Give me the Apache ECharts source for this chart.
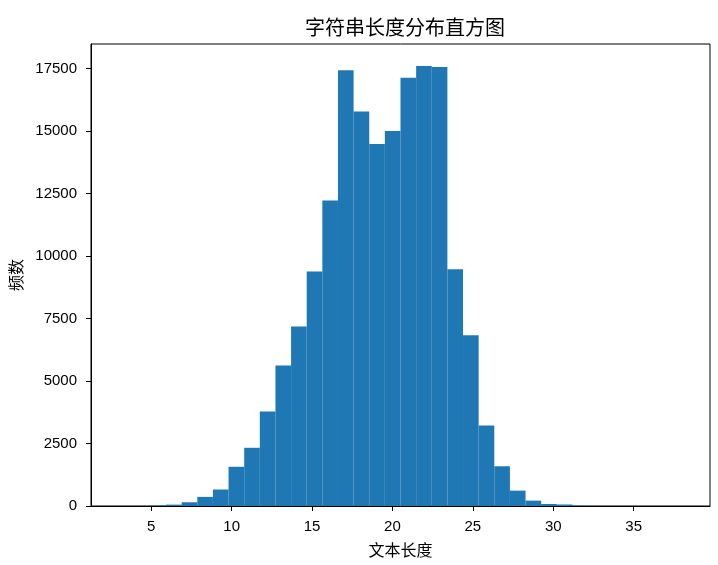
<!DOCTYPE html>
<html>
<head>
<meta charset="utf-8">
<script src="https://cdn.jsdelivr.net/npm/echarts@6/dist/echarts.min.js"></script>
<style>
html,body{margin:0;padding:0;background:#fff;}
#chart{width:718px;height:565px;}
</style>
</head>
<body>
<div id="chart"></div>
<script>
// Histogram: string lengths 3..38, 36 bins
const binStart = 3;
const binEnd = 38;
const binCount = 36;
const counts = [
  2, 5, 20, 55, 150, 365, 660, 1570, 2330, 3780,
  5620, 7185, 9385, 12230, 17440, 15790, 14485, 15005, 17140, 17610,
  17570, 9480, 6835, 3220, 1590, 615, 215, 80, 60, 12,
  5, 2, 1, 1, 0, 1
];
const xTicks = [5, 10, 15, 20, 25, 30, 35];
const yTicks = [0, 2500, 5000, 7500, 10000, 12500, 15000, 17500];
const titleText = '字符串长度分布直方图';
const xName = '文本长度';
const yName = '频数';

const binW = (binEnd - binStart) / binCount;
const rows = counts.map((c, i) => [binStart + i * binW, binStart + (i + 1) * binW, c]);
const span = binEnd - binStart;
const xMin = binStart - span * 0.05;
const xMax = binEnd + span * 0.05;
const yMax = Math.max.apply(null, counts) * 1.05;

const numFont = 'Liberation Sans, Noto Sans CJK SC, sans-serif';
const cjkFont = 'Noto Sans CJK SC, sans-serif';

const chart = echarts.init(document.getElementById('chart'), null, {renderer: 'canvas'});
chart.setOption({
  animation: false,
  backgroundColor: '#fff',
  title: {
    text: titleText,
    left: 400, textAlign: 'center',
    top: 12,
    textStyle: {fontFamily: cjkFont, fontSize: 20, fontWeight: 'normal', color: '#000'}
  },
  grid: {left: 91, right: 8, top: 44, bottom: 59, show: true, borderColor: '#000', borderWidth: 1,
         backgroundColor: 'transparent', containLabel: false, outerBoundsMode: 'none'},
  xAxis: {
    type: 'value', min: xMin, max: xMax,
    name: xName, nameLocation: 'middle', nameGap: 36,
    nameTextStyle: {fontFamily: cjkFont, fontSize: 16, color: '#000'},
    axisLine: {show: true, onZero: false, lineStyle: {color: '#000', width: 1}},
    axisTick: {show: true, length: 5, customValues: xTicks, lineStyle: {color: '#000'}},
    axisLabel: {customValues: xTicks, margin: 13, fontFamily: numFont, fontSize: 15, color: '#000',
                formatter: v => String(v)},
    splitLine: {show: false}
  },
  yAxis: {
    type: 'value', min: 0, max: yMax,
    name: yName, nameLocation: 'middle', nameGap: 62, nameRotate: 90,
    nameTextStyle: {fontFamily: cjkFont, fontSize: 16, color: '#000'},
    axisLine: {show: true, onZero: false, lineStyle: {color: '#000', width: 1}},
    axisTick: {show: true, length: 5, customValues: yTicks, lineStyle: {color: '#000'}},
    axisLabel: {customValues: yTicks, margin: 14, fontFamily: numFont, fontSize: 15, color: '#000',
                formatter: v => String(v)},
    splitLine: {show: false}
  },
  series: [{
    type: 'custom',
    data: rows,
    encode: {x: [0, 1], y: 2},
    renderItem: function (params, api) {
      const p0 = api.coord([api.value(0), api.value(2)]);
      const p1 = api.coord([api.value(1), 0]);
      return {
        type: 'rect',
        shape: {x: p0[0], y: p0[1], width: p1[0] - p0[0], height: p1[1] - p0[1]},
        style: {fill: '#1f77b4'}
      };
    }
  }]
});
</script>
</body>
</html>
